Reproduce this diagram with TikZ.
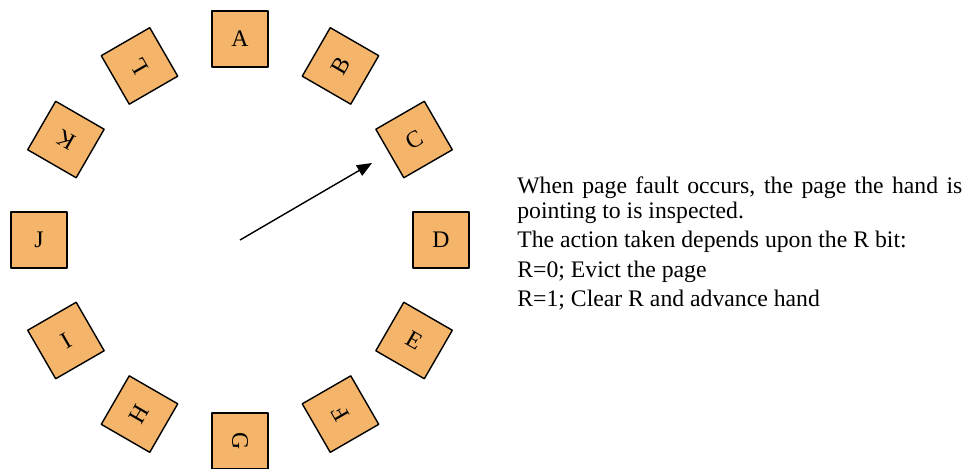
\documentclass[tikz,border=0pt]{standalone}
\usepackage{fontspec}
\setmainfont{Liberation Serif}
\usetikzlibrary{arrows.meta}
\definecolor{pagefill}{RGB}{244,181,106}
\setlength{\parindent}{0pt}
\tolerance=2000
\tikzset{
  page/.style={draw=black,line width=0.8pt,fill=pagefill,minimum size=1.12cm,inner sep=0pt,
    font=\fontsize{13.5}{16}\selectfont},
  hand/.style={-{Triangle[length=0.3cm,width=0.24cm]},line width=0.8pt},
  note/.style={anchor=north west,text width=8.9cm,align=justify,inner sep=0pt,
    font=\fontsize{13.5}{14.5}\selectfont}
}
\begin{document}
\begin{tikzpicture}[x=0.02cm,y=-0.02cm,line join=round]
  \useasboundingbox (0,0) rectangle (971,468);
  \def\cx{240} \def\cy{240} \def\rad{201}
  % pages round the clock
  \foreach \lbl/\rot [count=\i from 0] in {A/0,B/60,C/30,D/0,E/-30,F/120,G/-90,H/60,I/30,J/0,K/150,L/120}
    \node[page,rotate=\rot] (p\lbl) at ({\cx+\rad*sin(30*\i)},{\cy-\rad*cos(30*\i)}) {\lbl};
  % the hand
  \coordinate (hub) at (\cx,\cy);
  \coordinate (tip) at (372,163);
  \draw[hand] (hub) -- (tip);
  % explanation
  \node[note] (rule) at (517,176) {\parskip=2.2pt When page fault occurs, the page the hand is pointing to is inspected.\par
    The action taken depends upon the R bit:\par
    R=0; Evict the page\par
    R=1; Clear R and advance hand};
\end{tikzpicture}
\end{document}
